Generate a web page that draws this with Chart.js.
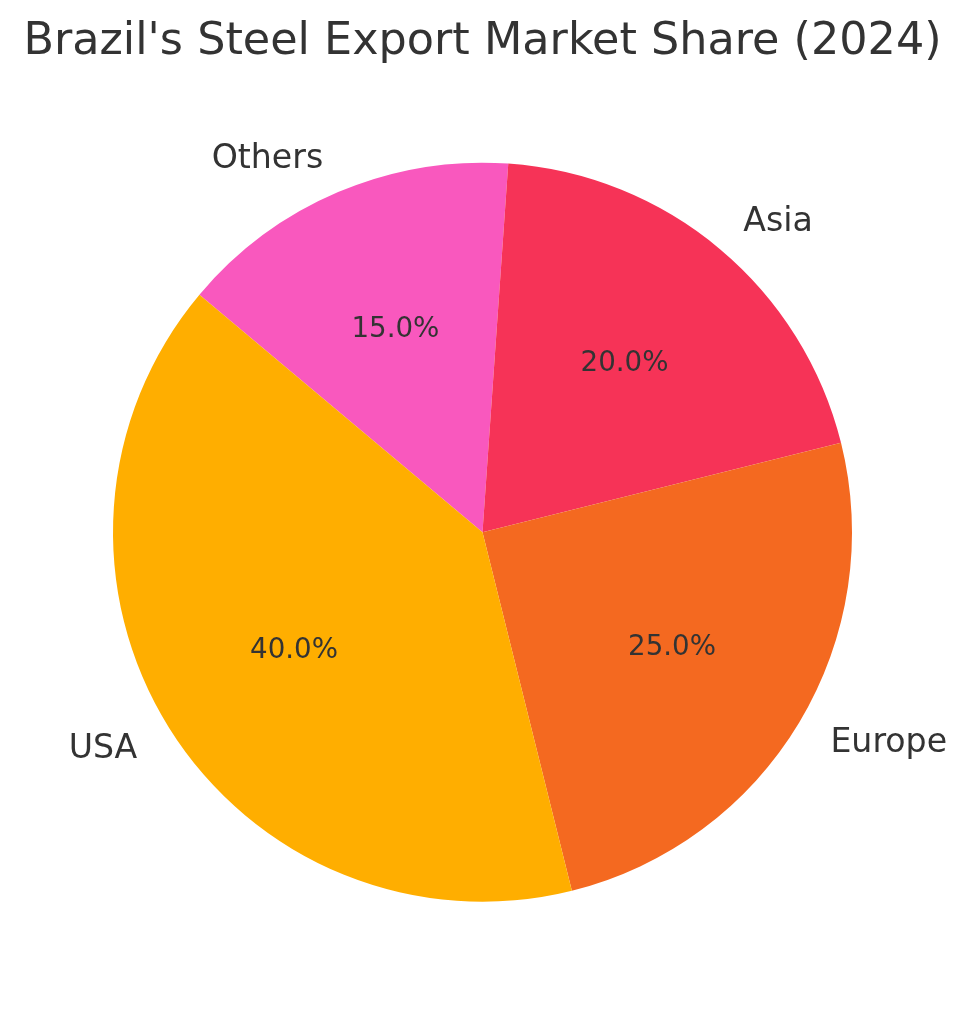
<!DOCTYPE html>
<html>
<head>
<meta charset="utf-8">
<title>Brazil's Steel Export Market Share (2024)</title>
<script src="https://cdn.jsdelivr.net/npm/chart.js@4"></script>
<style>
    html, body { margin: 0; padding: 0; background: #fff; }
    canvas { display: block; }
</style>
</head>
<body>
<canvas id="pieChart" width="967" height="1014"></canvas>
<script>
// listed clockwise, starting from the Others/USA boundary
const categories = ['Others', 'Asia', 'Europe', 'USA'];
const shares = [15, 20, 25, 40];
const sliceColors = ['#F958BE', '#F63357', '#F46920', '#FFAE00'];

const FONT = '"DejaVu Sans", sans-serif';
const TEXT_COLOR = '#333333';

// outside labels at 1.1 r, percentages at 0.6 r
const sliceLabels = {
    id: 'sliceLabels',
    afterDatasetsDraw(chart) {
        const { ctx } = chart;
        const total = shares.reduce((a, b) => a + b, 0);
        ctx.save();
        ctx.fillStyle = TEXT_COLOR;
        ctx.textBaseline = 'middle';
        chart.getDatasetMeta(0).data.forEach((arc, i) => {
            const mid = (arc.startAngle + arc.endAngle) / 2;
            const cos = Math.cos(mid);
            const sin = Math.sin(mid);

            ctx.font = `33.2px ${FONT}`;
            ctx.textAlign = cos >= 0 ? 'left' : 'right';
            ctx.fillText(categories[i], arc.x + cos * arc.outerRadius * 1.1 - 0.5, arc.y + sin * arc.outerRadius * 1.1 + 1.5);

            ctx.font = `27.7px ${FONT}`;
            ctx.textAlign = 'center';
            const pct = (shares[i] / total * 100).toFixed(1) + '%';
            ctx.fillText(pct, arc.x + cos * arc.outerRadius * 0.6 - 0.5, arc.y + sin * arc.outerRadius * 0.6 + 1.5);
        });
        ctx.restore();
    }
};

new Chart(document.getElementById('pieChart'), {
    type: 'pie',
    data: {
        labels: categories,
        datasets: [{
            data: shares,
            backgroundColor: sliceColors,
            borderWidth: 0,
            radius: 369.5
        }]
    },
    options: {
        responsive: false,
        animation: false,
        rotation: -50,
        layout: { padding: { left: 0, right: 2, top: 0, bottom: 19 } },
        plugins: {
            legend: { display: false },
            tooltip: { enabled: false },
            title: {
                display: true,
                text: "Brazil's Steel Export Market Share (2024)",
                color: TEXT_COLOR,
                font: { family: FONT, size: 44.5, weight: 'normal', lineHeight: 1.2 },
                padding: { top: 16, bottom: 0 }
            }
        }
    },
    plugins: [sliceLabels]
});
</script>
</body>
</html>
